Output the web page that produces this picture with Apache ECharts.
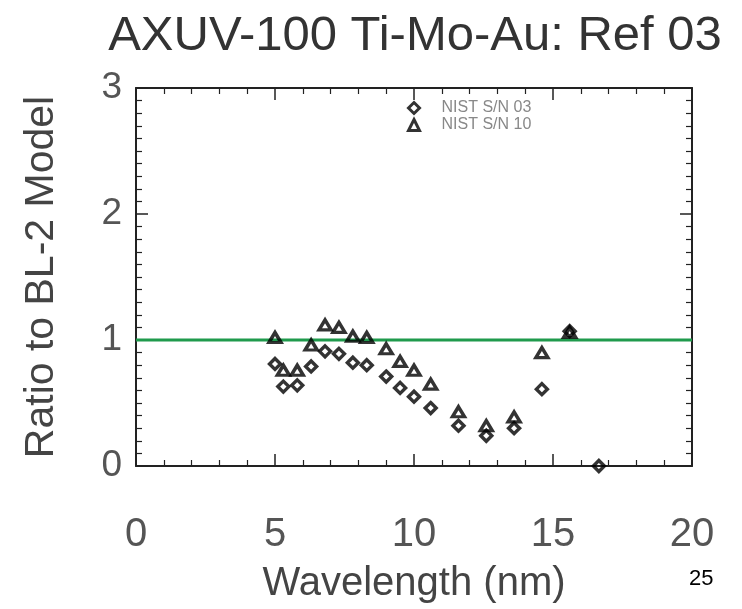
<!DOCTYPE html>
<html>
<head>
<meta charset="utf-8">
<script src="https://cdn.jsdelivr.net/npm/echarts@6/dist/echarts.min.js"></script>
<style>
  html, body { margin: 0; padding: 0; background: #fff; }
  #chart { width: 742px; height: 609px; }
</style>
</head>
<body>
<div id="chart"></div>
<script>
// wavelengths (nm) shared by both detectors
var wavelength = [5.0, 5.3, 5.8, 6.3, 6.8, 7.3, 7.8, 8.3, 9.0, 9.5, 10.0, 10.6, 11.6, 12.6, 13.6, 14.6, 15.6];
var sn03 = [0.81, 0.63, 0.64, 0.79, 0.91, 0.89, 0.82, 0.80, 0.71, 0.62, 0.55, 0.46, 0.32, 0.24, 0.30, 0.61, 1.07];
var sn10 = [1.02, 0.76, 0.76, 0.96, 1.12, 1.10, 1.03, 1.02, 0.93, 0.83, 0.76, 0.65, 0.43, 0.32, 0.39, 0.90, 1.06];
// stray point sitting on the bottom axis
var extraX = 16.65, extraY = 0.0;
var xTicks = [0, 5, 10, 15, 20];
var yTicks = [0, 1, 2, 3];

var font = '"Liberation Sans", Arial, sans-serif';

function pairs(xs, ys) {
    return xs.map(function (x, i) { return [x, ys[i]]; });
}

var chart = echarts.init(document.getElementById('chart'));

var frame = { show: true, onZero: false, lineStyle: { color: '#222', width: 2 } };
var majorTick = { show: true, inside: true, length: 12, lineStyle: { color: '#222', width: 1.5 } };
var minorTick = { show: true, length: 6, lineStyle: { color: '#222', width: 1.2 } };
// hollow marks with a thick dark outline
var markStyle = { color: 'rgba(255,255,255,0)', borderColor: '#000', borderWidth: 3.4 };

var option = {
    backgroundColor: '#fff',
    animation: false,
    title: {
        text: 'AXUV-100 Ti-Mo-Au: Ref 03',
        left: 410, top: 7, textAlign: 'center',
        textStyle: { fontFamily: font, fontSize: 49, fontWeight: 'normal', color: '#333' }
    },
    legend: {
        orient: 'vertical',
        left: 402, top: 95,
        itemWidth: 11, itemHeight: 11, itemGap: 1,
        itemStyle: { borderColor: '#000', borderWidth: 3 },
        textStyle: { fontFamily: font, fontSize: 16, color: '#888', padding: [0, 0, 0, 17] },
        data: ['NIST S/N 03', 'NIST S/N 10']
    },
    grid: { left: 136, right: 50, top: 88, bottom: 142 },
    xAxis: [{
        type: 'value', min: xTicks[0], max: xTicks[xTicks.length - 1], interval: 5,
        axisLine: frame, axisTick: majorTick,
        minorTick: Object.assign({ splitNumber: 5 }, minorTick),
        splitLine: { show: false },
        axisLabel: { margin: 49, fontFamily: font, fontSize: 40, color: '#555' },
        name: 'Wavelength (nm)', nameLocation: 'middle', nameGap: 98,
        nameTextStyle: { fontFamily: font, fontSize: 40, color: '#444' }
    }, {
        type: 'value', position: 'top', min: 0, max: 20, interval: 5,
        axisLine: frame, axisTick: majorTick,
        minorTick: Object.assign({ splitNumber: 5 }, minorTick),
        splitLine: { show: false }, axisLabel: { show: false }
    }],
    yAxis: [{
        type: 'value', min: yTicks[0], max: yTicks[yTicks.length - 1], interval: 1,
        axisLine: frame, axisTick: majorTick,
        minorTick: Object.assign({ splitNumber: 10 }, minorTick),
        splitLine: { show: false },
        axisLabel: { margin: 14, fontFamily: font, fontSize: 37, color: '#555' },
        name: 'Ratio to BL-2 Model', nameLocation: 'middle', nameGap: 74,
        nameTextStyle: { fontFamily: font, fontSize: 41, color: '#444' }
    }, {
        type: 'value', position: 'right', min: 0, max: 3, interval: 1,
        axisLine: frame, axisTick: majorTick,
        minorTick: Object.assign({ splitNumber: 10 }, minorTick),
        splitLine: { show: false }, axisLabel: { show: false }
    }],
    graphic: [{
        type: 'text', left: 689, top: 568,
        style: { text: '25', fontFamily: font, fontSize: 22, fill: '#000' }
    }],
    series: [{
        type: 'line',
        data: [[0, 1], [20, 1]],
        symbol: 'none',
        lineStyle: { color: '#1f9a4c', width: 3 },
        silent: true,
        z: 1
    }, {
        name: 'NIST S/N 03',
        type: 'scatter',
        symbol: 'diamond',
        symbolSize: [11, 11],
        data: pairs(wavelength, sn03).concat([[extraX, extraY]]),
        itemStyle: markStyle,
        z: 3
    }, {
        name: 'NIST S/N 10',
        type: 'scatter',
        symbol: 'triangle',
        symbolSize: [12, 10],
        data: pairs(wavelength, sn10),
        itemStyle: markStyle,
        z: 3
    }]
};

chart.setOption(option);
</script>
</body>
</html>
